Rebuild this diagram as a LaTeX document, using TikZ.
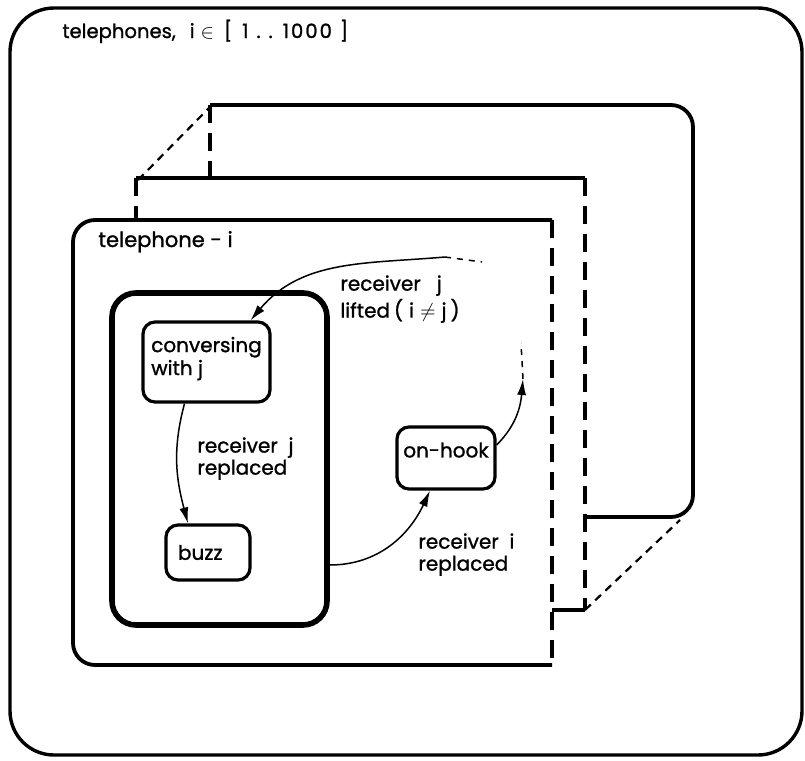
\documentclass[tikz,border=0pt]{standalone}
\usepackage{fontspec}
\setmainfont{Poppins}[FakeBold=1.2]
\usetikzlibrary{arrows.meta}

\begin{document}
\begin{tikzpicture}[
        x=0.5pt, y=-0.5pt,
        state/.style={
            rectangle, draw, line width=1.6pt, rounded corners=6pt,
            align=left, inner sep=3pt,
            font=\fontsize{10}{11.5}\selectfont
        },
        superstate/.style={rectangle, draw, line width=2.8pt, rounded corners=12pt},
        layer/.style={line width=1.9pt},
        hidden/.style={line width=1.9pt, dash pattern=on 9pt off 5pt},
        depth/.style={line width=1.1pt, dash pattern=on 4pt off 3pt},
        line/.style={draw, line width=0.75pt, -{Latex[length=8pt,width=4.5pt]}},
        loose/.style={line width=0.75pt, dash pattern=on 3pt off 3pt},
        lbl/.style={font=\fontsize{10}{11}\selectfont, align=left, inner sep=0pt}
    ]
    \useasboundingbox (0,0) rectangle (805,761);

    % all telephones
    \draw [line width=1.7pt, rounded corners=22pt] (10,8) rectangle (802,755);
    \node [lbl, anchor=base west, font=\fontsize{9.8}{11}\selectfont] (title) at (62,38)
        {telephones,\hspace{7pt}i\hspace{3pt}$\in$\hspace{5pt}[\hspace{5pt}1\hspace{4pt}.\hspace{4pt}.\hspace{5pt}1\hspace{1pt}0\hspace{1pt}0\hspace{1pt}0\hspace{4pt}]};

    % copies behind
    \draw [layer, rounded corners=11pt] (585,517) -- (693,517) -- (693,105) -- (210,105);
    \draw [hidden] (210,105) -- (210,178);
    \draw [depth] (138,180) -- (210,107);
    \draw [layer] (136,178) -- (585,178);
    \draw [layer] (552,610) -- (585,610);
    \draw [hidden] (585,178) -- (585,610);
    \draw [hidden] (136,178) -- (136,220);
    \draw [depth] (585,610) -- (680,520);

    % telephone i
    \draw [layer, rounded corners=11pt] (552,220) -- (73,220) -- (73,665) -- (552,665);
    \draw [hidden] (552,220) -- (552,665);
    \node [lbl, anchor=base west, font=\fontsize{10.5}{12}\selectfont] (phone) at (98,247) {telephone - i};

    \node [superstate, minimum width=107.5pt, minimum height=166pt] (offhook) at (219.5,459) {};
    \node [state, minimum width=63.5pt, minimum height=40pt, text depth=6pt] (conv) at (206.5,362) {conversing\\with j};
    \node [state, minimum width=42pt, minimum height=27.5pt, text width=30pt] (buzz) at (208,552.5) {buzz};
    \node [state, minimum width=49pt, minimum height=31pt, text depth=8pt] (onhook) at (446,458) {on-hook};

    \coordinate (liftin) at (445,257);
    \coordinate (liftout) at (482,262);
    \coordinate (hookout) at (523,379);
    \coordinate (hookfar) at (521,343);

    \draw [line] (liftin) to[out=185, in=50] ([xshift=22pt]conv.north);
    \draw [loose] (liftin) -- (liftout);
    \draw [line] ([xshift=-11pt]conv.south) to[out=255, in=105] ([xshift=-10pt]buzz.north);
    \draw [line] ([yshift=-53pt]offhook.east) to[out=0, in=245] ([xshift=-8pt]onhook.south);
    \draw [line] ([yshift=6.5pt]onhook.east) to[out=45, in=265] (hookout);
    \draw [loose] (hookout) -- (hookfar);

    \node [lbl, anchor=north west, font=\fontsize{10}{13.5}\selectfont] (lifted) at (340,275)
        {receiver\hspace{8pt}j\\lifted\hspace{2pt}(\hspace{3pt}i\hspace{3pt}$\neq$\hspace{3pt}j\hspace{2pt})};
    \node [lbl, anchor=north west] (jreplaced) at (197,437) {receiver\ \ j\\replaced};
    \node [lbl, anchor=north west] (ireplaced) at (418,533) {receiver\ \ i\\replaced};

    \end{tikzpicture}
\end{document}
